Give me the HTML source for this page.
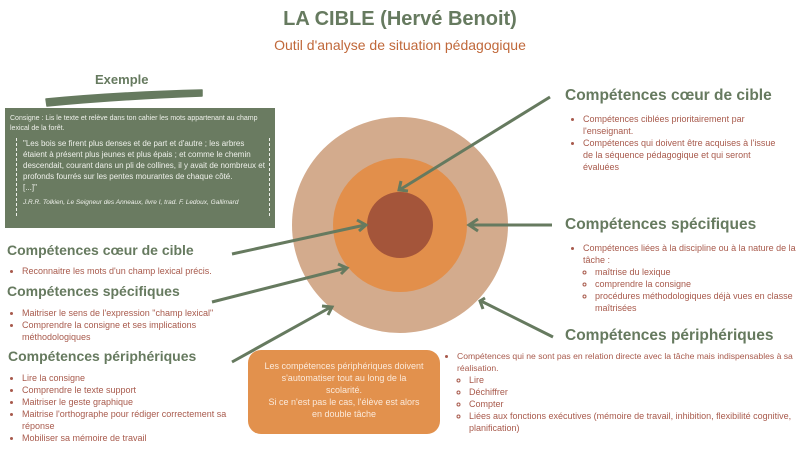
<!DOCTYPE html>
<html><head><meta charset="utf-8"><style>
body{margin:0;width:800px;height:450px;background:#fff;position:relative;overflow:hidden;font-family:"Liberation Sans",sans-serif}
.a{position:absolute}
.h{color:#667a5f;font-weight:bold;font-size:14px;white-space:nowrap}
.r{font-size:15.5px}
ul{margin:0;padding-left:14px;color:#a85a4c;font-size:9px;line-height:12px}
ul ul{padding-left:12px;list-style:circle}
li{margin:0}
</style></head><body>
<div class="a" style="left:0;top:8px;width:800px;text-align:center;color:#667a5f;font-weight:bold;font-size:20px">LA CIBLE (Hervé Benoit)</div>
<div class="a" style="left:0;top:37px;width:800px;text-align:center;color:#c0683a;font-size:14px">Outil d'analyse de situation pédagogique</div>
<div class="a h" style="left:95px;top:72px;font-size:13px">Exemple</div>
<svg class="a" style="left:0;top:0" width="800" height="450">
<path d="M46 99 Q120 92 202 90 L202 96 Q120 99 47 106Z" fill="#667a5f" stroke="#667a5f" stroke-width="1.5" stroke-linejoin="round"/>
<circle cx="400" cy="225" r="108" fill="#d3ab8d"/>
<circle cx="400" cy="225" r="67" fill="#e28f4b"/>
<circle cx="400" cy="225" r="33" fill="#a4553a"/>
<g stroke="#667a5f" stroke-width="3" fill="none">
<line x1="550" y1="97" x2="401" y2="189"/><path d="M401 181 L399 190 L408 191"/>
<line x1="232" y1="254" x2="365" y2="225"/><path d="M357 220 L366 225 L359 231"/>
<line x1="212" y1="302" x2="346" y2="268"/><path d="M338 264 L347 268 L341 274"/>
<line x1="232" y1="362" x2="331" y2="307"/><path d="M322 306 L332 307 L328 315"/>
<line x1="552" y1="225" x2="470" y2="225"/><path d="M478 219 L469 225 L478 231"/>
<line x1="553" y1="337" x2="481" y2="301"/><path d="M485 298 L480 301 L483 309"/>
</g>
</svg>
<div class="a" style="left:5px;top:108px;width:270px;height:120px;background:#6a7b61;color:#eef0ea">
<div style="font-size:7px;line-height:10px;padding:6px 5px 0 5px">Consigne : Lis le texte et relève dans ton cahier les mots appartenant au champ lexical de la forêt.</div>
<div style="margin:4px 5px 0 11px;border-left:1px dashed #eef0ea;border-right:1px dashed #eef0ea;padding:0 4px 0 6px;font-size:8px;line-height:11px">"Les bois se firent plus denses et de part et d'autre ; les arbres étaient à présent plus jeunes et plus épais ; et comme le chemin descendait, courant dans un pli de collines, il y avait de nombreux et profonds fourrés sur les pentes mourantes de chaque côté.<br>[...]"<div style="font-style:italic;font-size:6.5px;margin-top:4px;padding-bottom:8px">J.R.R. Tolkien, Le Seigneur des Anneaux, livre I, trad. F. Ledoux, Gallimard</div></div>
</div>
<div class="a h" style="left:7px;top:242px">Compétences cœur de cible</div>
<ul class="a" style="left:8px;top:265px"><li>Reconnaitre les mots d'un champ lexical précis.</li></ul>
<div class="a h" style="left:7px;top:283px">Compétences spécifiques</div>
<ul class="a" style="left:8px;top:307px;width:235px"><li>Maitriser le sens de l'expression "champ lexical"</li><li>Comprendre la consigne et ses implications méthodologiques</li></ul>
<div class="a h" style="left:8px;top:348px">Compétences périphériques</div>
<ul class="a" style="left:8px;top:372px;width:235px"><li>Lire la consigne</li><li>Comprendre le texte support</li><li>Maitriser le geste graphique</li><li>Maitrise l'orthographe pour rédiger correctement sa réponse</li><li>Mobiliser sa mémoire de travail</li></ul>
<div class="a" style="left:248px;top:350px;width:192px;height:84px;border-radius:13px;background:#e2914d;color:#fbe9da;font-size:9px;line-height:12px;text-align:center;box-sizing:border-box;padding:10px 16px 0">Les compétences périphériques doivent s'automatiser tout au long de la scolarité.<br>Si ce n'est pas le cas, l'élève est alors en double tâche</div>
<div class="a h r" style="left:565px;top:87px">Compétences cœur de cible</div>
<ul class="a" style="left:569px;top:113px;width:200px"><li>Compétences ciblées prioritairement par l'enseignant.</li><li>Compétences qui doivent être acquises à l'issue de la séquence pédagogique et qui seront évaluées</li></ul>
<div class="a h r" style="left:565px;top:216px">Compétences spécifiques</div>
<ul class="a" style="left:569px;top:242px;width:215px"><li>Compétences liées à la discipline ou à la nature de la tâche :<ul><li>maîtrise du lexique</li><li>comprendre la consigne</li><li>procédures méthodologiques déjà vues en classe maîtrisées</li></ul></li></ul>
<div class="a h r" style="left:565px;top:327px">Compétences périphériques</div>
<ul class="a" style="left:443px;top:350px;width:355px;font-size:8.6px"><li>Compétences qui ne sont pas en relation directe avec la tâche mais indispensables à sa réalisation.<ul><li>Lire</li><li>Déchiffrer</li><li>Compter</li><li>Liées aux fonctions exécutives (mémoire de travail, inhibition, flexibilité cognitive, planification)</li></ul></li></ul>
</body></html>
